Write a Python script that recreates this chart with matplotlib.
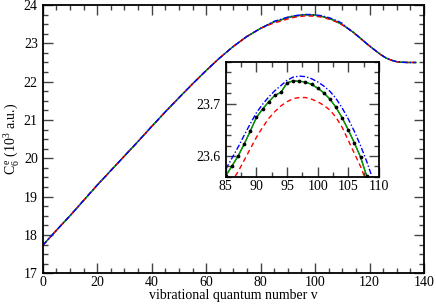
import numpy as np
import matplotlib
matplotlib.use("Agg")
import matplotlib.pyplot as plt
from matplotlib.ticker import MultipleLocator

plt.rcParams['font.family'] = ['Liberation Serif', 'DejaVu Serif']
plt.rcParams['mathtext.fontset'] = 'custom'
plt.rcParams['mathtext.rm'] = 'Liberation Serif'
plt.rcParams['mathtext.it'] = 'Liberation Serif'

# ---- data ----
v_low = [0, 5, 10, 15, 20, 25, 30, 35, 40, 45, 50, 55, 60, 65, 70, 75, 80]
c6_low = [17.73, 18.12, 18.50, 18.90, 19.30, 19.68, 20.06, 20.44, 20.83, 21.21,
          21.58, 21.94, 22.29, 22.62, 22.92, 23.18, 23.39]

v_mid = list(range(85, 111))
c6_green = [23.562, 23.581, 23.600, 23.623, 23.648, 23.674, 23.690, 23.704, 23.716,
            23.722, 23.740, 23.744, 23.743, 23.742, 23.737, 23.730, 23.721, 23.709,
            23.693, 23.673, 23.650, 23.625, 23.598, 23.562, 23.525, 23.485]
c6_black = [23.562, 23.581, 23.600, 23.623, 23.648, 23.674, 23.690, 23.704, 23.716,
            23.722, 23.740, 23.744, 23.743, 23.742, 23.737, 23.730, 23.721, 23.709,
            23.693, 23.673, 23.650, 23.625, 23.598, 23.562, 23.525, 23.485]
c6_blue = [23.575, 23.596, 23.617, 23.640, 23.662, 23.683, 23.699, 23.713, 23.725,
           23.735, 23.745, 23.751, 23.753, 23.752, 23.748, 23.742, 23.734, 23.724,
           23.710, 23.692, 23.671, 23.647, 23.620, 23.590, 23.556, 23.520]
c6_red = [23.535, 23.552, 23.570, 23.592, 23.614, 23.636, 23.655, 23.672, 23.685,
          23.696, 23.704, 23.710, 23.712, 23.712, 23.709, 23.704, 23.697, 23.688,
          23.674, 23.655, 23.630, 23.605, 23.580, 23.550, 23.515, 23.480]

v_high = [112, 114, 116, 118, 120, 122, 124, 126, 128, 130, 132, 134, 137]
c6_high = [23.39, 23.29, 23.17, 23.05, 22.93, 22.82, 22.71, 22.62, 22.56, 22.52,
           22.505, 22.50, 22.50]

x_ticks_main = [0, 20, 40, 60, 80, 100, 120, 140]
y_ticks_main = [17, 18, 19, 20, 21, 22, 23, 24]
x_ticks_inset = [85, 90, 95, 100, 105, 110]
y_ticks_inset = [23.6, 23.7]

def full(mid):
    return (np.concatenate([v_low, v_mid, v_high]),
            np.concatenate([c6_low, mid, c6_high]))

GREEN = '#00a000'
RED_LS = (0, (3.5, 2.5))
BLUE_LS = (0, (4, 1.5, 1, 1.5))

series = [
    (c6_black, dict(color='black', lw=0.9, ls='-')),
    (c6_green, dict(color=GREEN, lw=1.0, ls='-')),
    (c6_red, dict(color='#ff0000', lw=1.0, ls=RED_LS)),
    (c6_blue, dict(color='#0000ff', lw=1.0, ls=BLUE_LS)),
]

fig = plt.figure(figsize=(4.36, 3.04), dpi=100)
ax = fig.add_axes([0.098, 0.101, 0.8745, 0.8826])

for mid, st in series:
    x, y = full(mid)
    ax.plot(x, y, **st)

ax.set_xlim(0, 140)
ax.set_ylim(17, 24)
ax.set_xticks(x_ticks_main)
ax.set_yticks(y_ticks_main)
ax.xaxis.set_minor_locator(MultipleLocator(5))
ax.yaxis.set_minor_locator(MultipleLocator(0.25))
ax.tick_params(which='both', direction='in', top=True, right=True, labelsize=10,
               width=1.0, color='#444444')
ax.tick_params(which='major', length=7)
ax.tick_params(which='minor', length=3.5)
ax.tick_params(axis='x', pad=2)
for s in ax.spines.values():
    s.set_linewidth(1.3)
ax.set_xlabel('vibrational quantum number v', fontsize=10, labelpad=0)
ax.set_ylabel(r'C$_6^{\,\rm e}$ (10$^3$ a.u.)', fontsize=10, labelpad=2)

# inset
ins = fig.add_axes([0.518, 0.418, 0.351, 0.378])
x_in = np.array(v_mid)
ins.plot(x_in, c6_black, color='black', lw=0.8)
ins.plot(x_in, c6_green, color=GREEN, lw=1.0)
ins.plot(x_in, c6_black, ls='none', marker='o', ms=1.7, color='black')
ins.plot(x_in, c6_red, color='#ff0000', lw=1.0, ls=RED_LS)
ins.plot(x_in, c6_blue, color='#0000ff', lw=1.0, ls=BLUE_LS)
ins.set_xlim(85, 110)
ins.set_ylim(23.56, 23.78)
ins.set_xticks(x_ticks_inset)
ins.set_yticks(y_ticks_inset)
ins.set_yticklabels(['23.6', '23.7'])
ins.xaxis.set_minor_locator(MultipleLocator(2.5))
ins.yaxis.set_minor_locator(MultipleLocator(0.02))
ins.tick_params(which='both', direction='in', top=True, right=True, labelsize=10,
                width=1.0, color='#444444')
ins.tick_params(which='major', length=7)
ins.tick_params(which='minor', length=3.5)
ins.tick_params(axis='x', pad=2)
for s in ins.spines.values():
    s.set_linewidth(1.3)

fig.savefig('out.png', dpi=100)
